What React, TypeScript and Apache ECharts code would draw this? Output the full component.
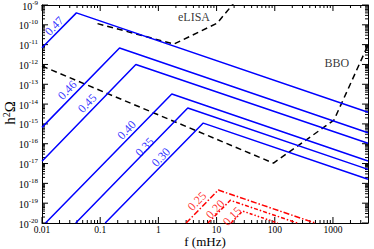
import React, { useEffect, useRef } from "react";
import * as echarts from "echarts";

const X_MIN = 0.01;
const X_MAX = 4000;
const Y_MIN = 1e-20;
const Y_MAX = 1e-9;

const xDecades = [0.01, 0.1, 1, 10, 100, 1000];
const xTickLabels = ["0.01", "0.1", "1", "10", "100", "1000"];
const yDecades = [1e-20, 1e-19, 1e-18, 1e-17, 1e-16, 1e-15, 1e-14, 1e-13, 1e-12, 1e-11, 1e-10, 1e-9];
const yExponents = [-20, -19, -18, -17, -16, -15, -14, -13, -12, -11, -10, -9];
const minorMultipliers = [2, 3, 4, 5, 6, 7, 8, 9];

// blue spectra (f in mHz, h^2 Omega)
const blue047 = [[0.01, 6.9e-12], [0.039, 4.0e-10], [4000, 3.9e-15]];
const blue046 = [[0.01, 6.7e-16], [0.215, 6.7e-12], [4000, 3.6e-16]];
const blue045 = [[0.01, 1.3e-17], [0.41, 1.0e-12], [4000, 1.05e-16]];
const blue040 = [[0.0115, 1e-20], [1.7, 3.2e-14], [4000, 1.35e-17]];
const blue035 = [[0.038, 1e-20], [3.2, 6.3e-15], [4000, 5.1e-18]];
const blue030 = [[0.122, 1e-20], [5.9, 1.1e-15], [4000, 1.6e-18]];

// red spectra
const red025 = [[3.0, 1e-20], [10.7, 4.6e-19], [490, 1e-20]];
const red020 = [[7.1, 1e-20], [17.2, 1.4e-19], [243, 1e-20]];
const red015 = [[17.8, 1e-20], [28, 4e-20], [112, 1e-20]];

// sensitivity curves
const eLISA = [[0.09, 1.15e-10], [1.85, 1.07e-11], [10.2, 1.2e-10], [18.6, 1e-9], [25, 3e-9]];
const BBO = [[0.01, 8.3e-13], [95, 1.05e-17], [1040, 1.55e-15], [4000, 9.5e-12]];

const blueLabels = [
  { name: "0.47", value: [0.0162, 8.7e-11] },
  { name: "0.46", value: [0.0271, 5.1e-14] },
  { name: "0.45", value: [0.06, 1.1e-14] },
  { name: "0.40", value: [0.284, 4.9e-16] },
  { name: "0.35", value: [0.58, 6.8e-17] },
  { name: "0.30", value: [1.1, 2.1e-17] },
];
const redLabels = [
  { name: "0.25", value: [4.6, 1.26e-19] },
  { name: "0.20", value: [9.5, 5e-20] },
  { name: "0.15", value: [18.6, 2.2e-20] },
];
const curveLabels = [
  { name: "eLISA", value: [4.1, 2.5e-10] },
  { name: "BBO", value: [1170, 1.2e-12] },
];

const SERIF = '"Liberation Serif", "DejaVu Serif", serif';

const xMinor: number[][] = [];
xDecades.forEach((d) =>
  minorMultipliers.forEach((m) => {
    const v = d * m;
    if (v < X_MAX) xMinor.push([v, Y_MIN]);
  })
);
const yMinor: number[][] = [];
yDecades.slice(0, -1).forEach((d) => minorMultipliers.forEach((m) => yMinor.push([X_MIN, d * m])));

const xMajor = xDecades.map((v, i) => [v, Y_MIN, i]);
const yMajor = yDecades.map((v, i) => [X_MIN, v, i]);

function lineSeries(data: number[][], color: string, type: any, width = 1.5) {
  return {
    type: "line",
    data,
    showSymbol: false,
    symbol: "none",
    clip: true,
    silent: true,
    lineStyle: { color, width, type },
  };
}

function labelSeries(data: any[], color: string, rotate: number, fontSize: number) {
  return {
    type: "scatter",
    data,
    symbolSize: 1,
    silent: true,
    itemStyle: { color: "rgba(0,0,0,0)" },
    label: {
      show: true,
      position: "inside",
      formatter: "{b}",
      rotate,
      color,
      fontSize,
      fontFamily: SERIF,
    },
  };
}

const tickStyle = { stroke: "#000", lineWidth: 1 };

export default function App() {
  const ref = useRef<HTMLDivElement>(null);
  useEffect(() => {
    if (!ref.current) return;
    const chart = echarts.init(ref.current, undefined, { renderer: "svg" });
    const axisCommon = {
      type: "log",
      logBase: 10,
      axisLine: { show: true, lineStyle: { color: "#000", width: 1 } },
      axisTick: { show: false },
      axisLabel: { show: false },
      splitLine: { show: false },
      minorTick: { show: false },
    };
    chart.setOption({
      animation: false,
      backgroundColor: "#fff",
      grid: { left: 42, right: 6, top: 5, bottom: 26, containLabel: false, outerBoundsMode: "none" },
      xAxis: [
        { ...axisCommon, min: X_MIN, max: X_MAX, position: "bottom" },
        { ...axisCommon, min: X_MIN, max: X_MAX, position: "top" },
      ],
      yAxis: [
        { ...axisCommon, min: Y_MIN, max: Y_MAX, position: "left" },
        { ...axisCommon, min: Y_MIN, max: Y_MAX, position: "right" },
      ],
      graphic: [
        {
          type: "text",
          x: 205,
          y: 241.5,
          style: {
            text: "f (mHz)",
            fontSize: 13,
            fontFamily: SERIF,
            fill: "#000",
            align: "center",
            verticalAlign: "middle",
          },
        },
        {
          type: "text",
          x: 10,
          y: 113,
          rotation: Math.PI / 2,
          style: {
            text: "h{sup|2}Ω",
            fontSize: 15,
            fontFamily: SERIF,
            fill: "#000",
            align: "center",
            verticalAlign: "middle",
            rich: { sup: { fontSize: 10, fontFamily: SERIF, fill: "#000", padding: [0, 0, 8, 0] } },
          },
        },
      ],
      series: [
        lineSeries(eLISA, "#000", [6, 4]),
        lineSeries(BBO, "#000", [6, 4]),
        lineSeries(blue047, "#0000ff", "solid"),
        lineSeries(blue046, "#0000ff", "solid"),
        lineSeries(blue045, "#0000ff", "solid"),
        lineSeries(blue040, "#0000ff", "solid"),
        lineSeries(blue035, "#0000ff", "solid"),
        lineSeries(blue030, "#0000ff", "solid"),
        lineSeries(red025, "#ff0000", [6, 2, 1.5, 2]),
        lineSeries(red020, "#ff0000", [4, 2, 1.5, 2]),
        lineSeries(red015, "#ff0000", [3, 2, 1.5, 2, 1.5, 2]),
        labelSeries(blueLabels, "#0000ff", 46, 12),
        labelSeries(redLabels, "#ff0000", 46, 12),
        labelSeries(curveLabels, "#000", 0, 12),
        {
          type: "custom",
          silent: true,
          data: xMinor,
          encode: { x: 0, y: 1 },
          renderItem: (_p: any, api: any) => {
            const v = api.value(0);
            const b = api.coord([v, Y_MIN]);
            const t = api.coord([v, Y_MAX]);
            return {
              type: "group",
              children: [
                { type: "line", shape: { x1: b[0], y1: b[1], x2: b[0], y2: b[1] - 3 }, style: tickStyle },
                { type: "line", shape: { x1: t[0], y1: t[1], x2: t[0], y2: t[1] + 3 }, style: tickStyle },
              ],
            };
          },
        },
        {
          type: "custom",
          silent: true,
          data: yMinor,
          encode: { x: 0, y: 1 },
          renderItem: (_p: any, api: any) => {
            const v = api.value(1);
            const l = api.coord([X_MIN, v]);
            const r = api.coord([X_MAX, v]);
            return {
              type: "group",
              children: [
                { type: "line", shape: { x1: l[0], y1: l[1], x2: l[0] + 3, y2: l[1] }, style: tickStyle },
                { type: "line", shape: { x1: r[0], y1: r[1], x2: r[0] - 3, y2: r[1] }, style: tickStyle },
              ],
            };
          },
        },
        {
          type: "custom",
          silent: true,
          data: xMajor,
          encode: { x: 0, y: 1 },
          renderItem: (_p: any, api: any) => {
            const v = api.value(0);
            const i = api.value(2);
            const b = api.coord([v, Y_MIN]);
            const t = api.coord([v, Y_MAX]);
            return {
              type: "group",
              children: [
                { type: "line", shape: { x1: b[0], y1: b[1], x2: b[0], y2: b[1] - 6 }, style: tickStyle },
                { type: "line", shape: { x1: t[0], y1: t[1], x2: t[0], y2: t[1] + 6 }, style: tickStyle },
                {
                  type: "text",
                  x: b[0],
                  y: b[1] + 2,
                  style: {
                    text: xTickLabels[i],
                    fontSize: 9.5,
                    fontFamily: SERIF,
                    fill: "#000",
                    align: "center",
                    verticalAlign: "top",
                  },
                },
              ],
            };
          },
        },
        {
          type: "custom",
          silent: true,
          data: yMajor,
          encode: { x: 0, y: 1 },
          renderItem: (_p: any, api: any) => {
            const v = api.value(1);
            const i = api.value(2);
            const l = api.coord([X_MIN, v]);
            const r = api.coord([X_MAX, v]);
            return {
              type: "group",
              children: [
                { type: "line", shape: { x1: l[0], y1: l[1], x2: l[0] + 6, y2: l[1] }, style: tickStyle },
                { type: "line", shape: { x1: r[0], y1: r[1], x2: r[0] - 6, y2: r[1] }, style: tickStyle },
                {
                  type: "text",
                  x: l[0] - 4,
                  y: l[1] + 1,
                  style: {
                    text: "10{sup|" + yExponents[i] + "}",
                    fontSize: 10,
                    fontFamily: SERIF,
                    fill: "#000",
                    align: "right",
                    verticalAlign: "middle",
                    rich: {
                      sup: { fontSize: 7, fontFamily: SERIF, fill: "#000", padding: [0, 0, 7, 0] },
                    },
                  },
                },
              ],
            };
          },
        },
      ],
    });
    return () => chart.dispose();
  }, []);
  return (
    <div
      ref={ref}
      style={{ position: "absolute", left: 0, top: 0, width: 374, height: 249, background: "#fff" }}
    />
  );
}
